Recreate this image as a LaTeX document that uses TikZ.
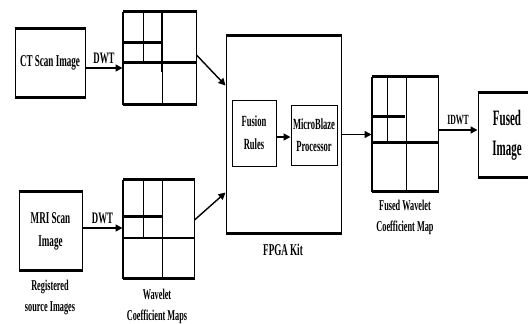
\documentclass[tikz,border=0pt]{standalone}
\usepackage{fontspec}
\newfontfamily\cf[FakeStretch=0.55]{Liberation Serif}
\newfontfamily\cfn[FakeStretch=0.5]{Liberation Serif}
\usetikzlibrary{arrows.meta,calc}
\begin{document}
\begin{tikzpicture}[x=1pt,y=-1pt,
  box/.style={draw, line width=1pt, inner sep=0pt, align=center, font=\cf\bfseries\fontsize{16.5}{23}\selectfont},
  grid/.style={draw, line width=1pt, inner sep=0pt},
  thk/.style={line width=3pt},
  mid/.style={line width=2pt},
  thn/.style={line width=1pt},
  arr/.style={line width=1.4pt, -{Triangle[length=7pt,width=7pt]}},
  lbl/.style={align=center, inner sep=0pt, font=\cf\bfseries\fontsize{15}{21}\selectfont}]
\useasboundingbox[fill=white] (0,0) rectangle (528,324);
\clip (0,0) rectangle (528,324);

% input boxes
\node[box, minimum width=70pt, minimum height=68pt] (ct) at (50,63) {CT Scan Image};
\draw[thk] (ct.north west) -- (ct.north east) (ct.south west) -- (ct.south east);
\node[box, minimum width=63pt, minimum height=78pt] (mri) at (50.5,231) {MRI Scan\\Image};
\draw[thk] (mri.north west) -- (mri.north east) (mri.south west) -- (mri.south east);
\node[lbl] (reg) at (50,297) {Registered\\source Images};

% grid 1
\node[grid, minimum width=73pt, minimum height=92pt] (g1) at (159.5,58) {};
\draw[thk] (g1.north west) -- (g1.north east) (g1.south west) -- (g1.south east);
\draw[mid] (g1.north west) -- (g1.south west);
\draw[mid] (162,12) -- (162,72);
\draw[thn] (162,72) -- (162,104);
\draw[thk] (123,62) -- (196,62);
\draw[thn] (143,12) -- (143,62);
\draw[thk] (123,42) -- (162,42);

% grid 2
\node[grid, minimum width=71pt, minimum height=98pt] (g2) at (158.5,229) {};
\draw[thk] (g2.north west) -- (g2.north east) (g2.south west) -- (g2.south east);
\draw[mid] (g2.north west) -- (g2.south west);
\draw[thn] (162,180) -- (162,278);
\draw[mid] (123,238) -- (194,238);
\draw[thn] (143,180) -- (143,238);
\draw[thk] (123,216) -- (162,216);
\node[lbl] (wcm) at (157,306) {Wavelet\\Coefficient Maps};

% FPGA
\node[box, minimum width=115pt, minimum height=197pt] (fpga) at (283.5,134.5) {};
\draw[thk] (fpga.north west) -- (fpga.north east) (fpga.south west) -- (fpga.south east);
\node[lbl, font=\cf\bfseries\fontsize{16.5}{21}\selectfont] (kit) at (283,250) {FPGA Kit};
\node[box, minimum width=44pt, minimum height=66pt, font=\cf\bfseries\fontsize{15.5}{23}\selectfont] (fus) at (254,133) {Fusion\\Rules};
\node[box, minimum width=46pt, minimum height=60pt, font=\cf\bfseries\fontsize{15.5}{22}\selectfont] (mb) at (314,135) {MicroBlaze\\Processor};

% grid 3
\node[grid, minimum width=66pt, minimum height=114pt] (g3) at (405,134) {};
\draw[thk] (g3.north west) -- (g3.north east) (g3.south west) -- (g3.south east);
\draw[mid] (g3.north west) -- (g3.south west);
\draw[thn] (387,77) -- (387,142);
\draw[thn] (406,77) -- (406,191);
\draw[thk] (372,116) -- (405,116);
\draw[thk] (372,142) -- (438,142);
\node[lbl] (fwcm) at (405,217) {Fused Wavelet\\Coefficient Map};

% output
\node[box, minimum width=58pt, minimum height=84pt, font=\cfn\bfseries\fontsize{22}{30}\selectfont] (out) at (507,135) {Fused\\Image};
\draw[thk] (out.north west) -- (out.north east) (out.south west) -- (out.south east);

% arrows
\draw[arr] ([yshift=-5pt]ct.east) -- ([yshift=-5pt]ct.east -| g1.west) node[midway, above=4pt, lbl, font=\cf\bfseries\fontsize{16}{21}\selectfont] (dwt1) {DWT};
\draw[arr] ([yshift=3pt]mri.east) -- ([yshift=3pt]mri.east -| g2.west) node[midway, above=4pt, lbl, font=\cf\bfseries\fontsize{16}{21}\selectfont] (dwt2) {DWT};
\draw[arr] ([yshift=3pt]g1.east) -- ([yshift=49pt]fpga.west);
\draw[arr] ([yshift=9pt]g2.east) -- ([yshift=-58pt]fpga.west);
\draw[arr] ([yshift=-4pt]fus.east) -- ([yshift=-4pt]fus.east -| mb.west);
\draw[arr] (fpga.east) -- (fpga.east -| g3.west);
\draw[arr] ([yshift=4pt]g3.east) -- ([yshift=4pt]g3.east -| out.west) node[midway, above=5pt, lbl, font=\cf\bfseries\fontsize{14}{21}\selectfont] (idwt) {IDWT};
\end{tikzpicture}
\end{document}
